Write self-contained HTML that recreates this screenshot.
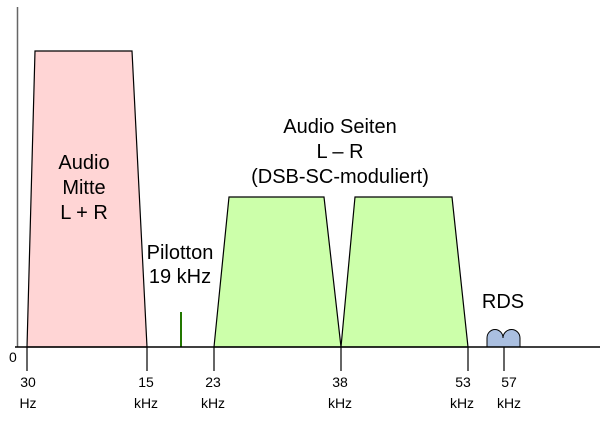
<!DOCTYPE html>
<html><head><style>body{margin:0;background:#fff}</style></head><body>
<svg width="600" height="420" xmlns="http://www.w3.org/2000/svg" font-family="Liberation Sans, sans-serif">
<rect width="600" height="420" fill="#fff"/>
<line x1="17.5" y1="7" x2="17.5" y2="347" stroke="#666" stroke-width="1.5"/>
<polygon points="27,347 35,51 132,51 147,347" fill="#ffd5d5" stroke="#000" stroke-width="1.2"/>
<polygon points="214,347 229,197 324,197 341,347" fill="#ccffaa" stroke="#000" stroke-width="1.2"/>
<polygon points="341,347 355,197 452,197 468,347" fill="#ccffaa" stroke="#000" stroke-width="1.2"/>
<line x1="181" y1="312" x2="181" y2="347" stroke="#227700" stroke-width="2"/>
<path d="M487,347 V338 A7.5,8 0 0 1 503,338 A8,8 0 0 1 520,338 V347 Z" fill="#aabfe0" stroke="#000" stroke-width="1"/>
<line x1="15" y1="347" x2="600" y2="347" stroke="#000" stroke-width="1.5"/>
<g stroke="#000" stroke-width="1.2">
<line x1="27" y1="347" x2="27" y2="371"/>
<line x1="147" y1="347" x2="147" y2="371"/>
<line x1="214" y1="347" x2="214" y2="371"/>
<line x1="341" y1="347" x2="341" y2="371"/>
<line x1="468" y1="347" x2="468" y2="371"/>
<line x1="504" y1="347" x2="504" y2="371"/>
</g>
<g font-size="14" text-anchor="middle">
<text x="9" y="362" text-anchor="start">0</text>
<text x="28" y="387">30</text><text x="28" y="408">Hz</text>
<text x="146" y="387">15</text><text x="146" y="408">kHz</text>
<text x="213" y="387">23</text><text x="213" y="408">kHz</text>
<text x="340" y="387">38</text><text x="340" y="408">kHz</text>
<text x="463" y="387">53</text><text x="462" y="408">kHz</text>
<text x="509" y="387">57</text><text x="509" y="408">kHz</text>
</g>
<g font-size="20" text-anchor="middle">
<text x="84" y="169">Audio</text><text x="84" y="194">Mitte</text><text x="84" y="219">L + R</text>
<text x="340" y="133">Audio Seiten</text><text x="340" y="158">L – R</text><text x="340" y="183">(DSB-SC-moduliert)</text>
<text x="180" y="259">Pilotton</text><text x="180" y="283">19 kHz</text>
<text x="503" y="308">RDS</text>
</g>
</svg>
</body></html>
